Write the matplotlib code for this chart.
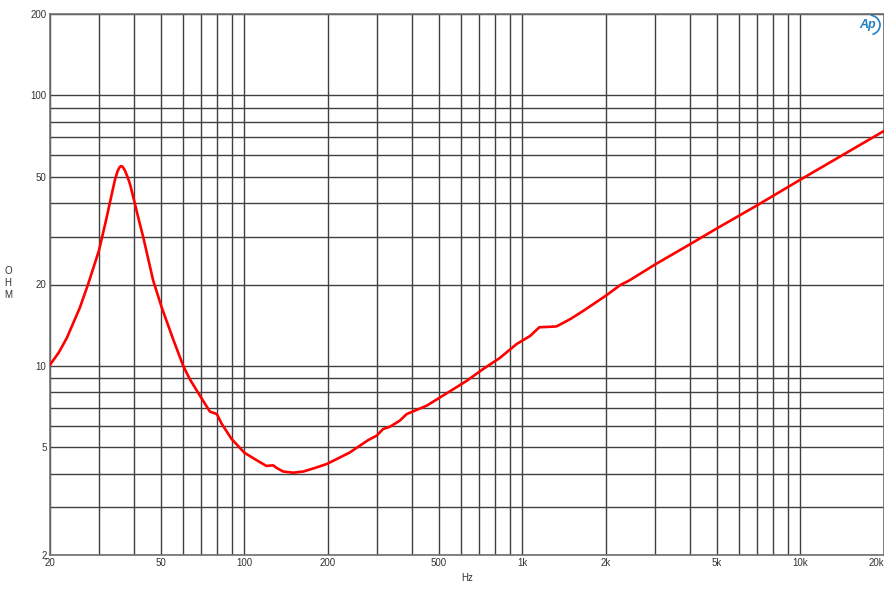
import matplotlib
matplotlib.use('Agg')
import matplotlib.pyplot as plt
from matplotlib.ticker import FixedLocator, NullFormatter, NullLocator
from matplotlib.patches import Arc
from matplotlib.transforms import IdentityTransform

# impedance curve (Hz, ohm)
freq = [20, 21.5, 23, 25.6, 27.4, 30, 31.8, 33.4, 34.2, 35, 35.6, 36, 36.5,
        37.2, 38, 38.8, 40.4, 41.5, 43.3, 47, 50.4, 55.7, 60.3, 63.8, 70.3,
        75.2, 79.6, 83, 90, 100, 110, 120, 127, 131, 138, 150, 163, 180, 198,
        239, 279, 299, 316, 334, 362, 384, 453, 506, 630, 724, 830, 954, 1066,
        1152, 1250, 1328, 1488, 1660, 2000, 2250, 2426, 3000, 3993, 5000, 6980,
        10000, 14000, 20000]
ohm = [10.1, 11.2, 12.7, 16.4, 20.0, 26.7, 34.5, 43.4, 48.5, 52.5, 54.3, 54.8,
       54.5, 52.8, 50.0, 47.0, 39.8, 35.5, 29.9, 20.7, 16.5, 12.4, 10.0, 8.9,
       7.57, 6.78, 6.64, 6.1, 5.37, 4.78, 4.5, 4.27, 4.29, 4.19, 4.07, 4.03,
       4.07, 4.2, 4.34, 4.78, 5.32, 5.52, 5.85, 5.96, 6.27, 6.64, 7.13, 7.65,
       8.8, 9.75, 10.7, 12.05, 12.9, 13.9, 13.95, 14.0, 14.9, 16.0, 18.2, 19.9,
       20.7, 23.7, 28.1, 32.2, 39.2, 48.8, 59.7, 73.9]

xticks = [20, 50, 100, 200, 500, 1000, 2000, 5000, 10000, 20000]
xlabels = ['20', '50', '100', '200', '500', '1k', '2k', '5k', '10k', '20k']
yticks = [2, 5, 10, 20, 50, 100, 200]
ylabels = ['2', '5', '10', '20', '50', '100', '200']

xgrid = [k * 10 ** n for n in range(1, 5) for k in range(1, 10)]
xgrid = [v for v in xgrid if 20 <= v <= 20000]
ygrid = [k * 10 ** n for n in range(0, 3) for k in range(1, 10)]
ygrid = [v for v in ygrid if 2 <= v <= 200]

plt.rcParams['font.family'] = ['Liberation Sans', 'DejaVu Sans']

W, H = 884, 600
fig = plt.figure(figsize=(W / 100, H / 100), dpi=100)
ax = fig.add_axes([50 / W, 45 / H, 834 / W, 541 / H])
ax.set_xscale('log')
ax.set_yscale('log')
ax.set_xlim(20, 20000)
ax.set_ylim(2, 200)

for v in xgrid:
    ax.axvline(v, color='#404040', lw=1.0, zorder=1)
for v in ygrid:
    ax.axhline(v, color='#404040', lw=1.0, zorder=1)

ax.plot(freq, ohm, color='#ff0000', lw=1.9, zorder=3, solid_joinstyle='round')

ax.xaxis.set_major_locator(FixedLocator(xticks))
ax.set_xticklabels(xlabels)
ax.xaxis.set_minor_locator(NullLocator())
ax.xaxis.set_minor_formatter(NullFormatter())
ax.yaxis.set_major_locator(FixedLocator(yticks))
ax.set_yticklabels(ylabels)
ax.yaxis.set_minor_locator(NullLocator())
ax.yaxis.set_minor_formatter(NullFormatter())
ax.tick_params(length=0, labelsize=7, labelcolor='#333333', pad=2.5)
ax.get_xticklabels()[-1].set_ha('right')

for s in ax.spines.values():
    s.set_color('#707070')
    s.set_linewidth(1.2)

fig.text(8 / W, 1 - 283 / H, 'O\nH\nM', fontsize=7, color='#333333',
         ha='center', va='center', linespacing=1.3)
fig.text(467 / W, 1 - 578 / H, 'Hz', fontsize=7, color='#333333',
         ha='center', va='center')

# Ap logo
fig.text(868 / W, 1 - 25 / H, 'Ap', fontsize=9, color='#1f7fc4', style='italic',
         fontweight='bold', ha='center', va='center')
logo = Arc((869, H - 25), 22, 20, theta1=-70, theta2=80, color='#1f7fc4',
           lw=1.2, transform=IdentityTransform())
fig.patches.append(logo)

fig.savefig('out.png', dpi=100)
